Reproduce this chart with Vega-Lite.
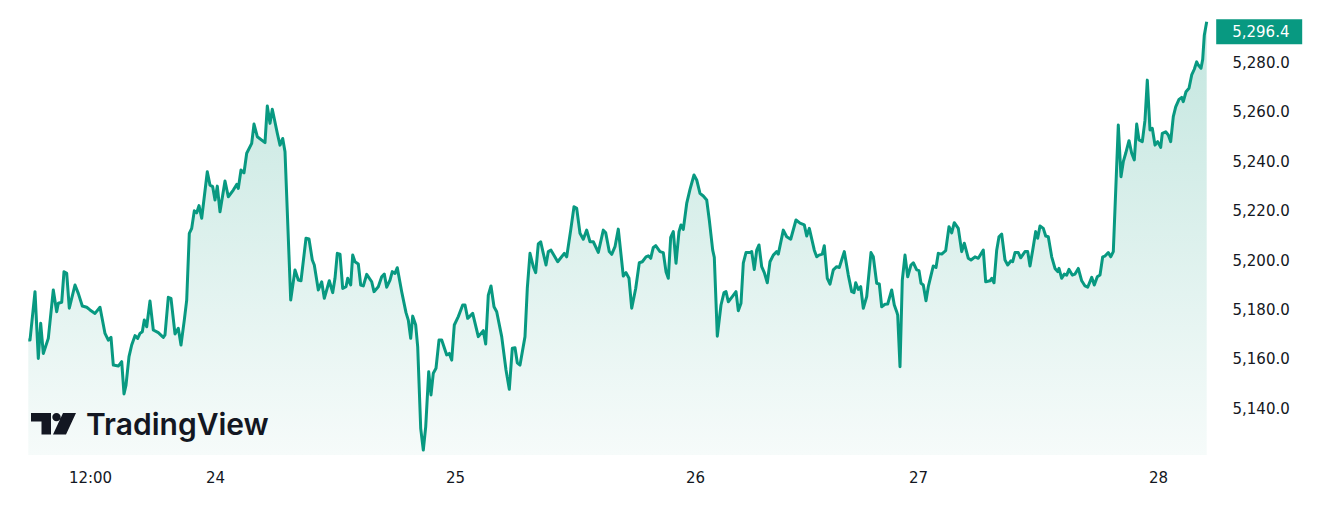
{
  "$schema": "https://vega.github.io/schema/vega-lite/v6.json",
  "width": 1179,
  "height": 450,
  "autosize": {"type": "none"},
  "padding": {"left": 28, "top": 5, "right": 122, "bottom": 54},
  "background": "#ffffff",
  "config": {"view": {"stroke": null}},
  "data": {"values": [
    {"t":-18.67,"p":5167.6},{"t":-18.5,"p":5167.6},{"t":-18.0,"p":5187.2},{"t":-17.67,"p":5160.2},{"t":-17.43,"p":5174.4},{"t":-17.17,"p":5162.2},{"t":-16.67,"p":5168.3},{"t":-16.17,"p":5187.9},{"t":-15.83,"p":5179.1},{"t":-15.67,"p":5182.5},{"t":-15.33,"p":5182.9},{"t":-15.1,"p":5195.3},{"t":-14.83,"p":5194.6},{"t":-14.57,"p":5180.5},{"t":-14.0,"p":5189.9},{"t":-13.67,"p":5186.5},{"t":-13.27,"p":5181.4},{"t":-12.83,"p":5180.9},{"t":-12.5,"p":5179.8},{"t":-12.0,"p":5178.4},{"t":-11.5,"p":5180.9},{"t":-11.0,"p":5170.3},{"t":-10.67,"p":5167.6},{"t":-10.4,"p":5168.7},{"t":-10.17,"p":5157.5},{"t":-9.67,"p":5157.1},{"t":-9.33,"p":5158.9},{"t":-9.1,"p":5145.8},{"t":-8.9,"p":5149.4},{"t":-8.6,"p":5160.9},{"t":-8.33,"p":5165.6},{"t":-8.0,"p":5169.4},{"t":-7.73,"p":5168.3},{"t":-7.5,"p":5170.3},{"t":-7.27,"p":5171.0},{"t":-7.07,"p":5175.7},{"t":-6.83,"p":5173.0},{"t":-6.5,"p":5183.4},{"t":-6.17,"p":5171.7},{"t":-5.67,"p":5170.6},{"t":-5.17,"p":5168.7},{"t":-5.0,"p":5169.7},{"t":-4.67,"p":5184.9},{"t":-4.4,"p":5184.5},{"t":-4.0,"p":5170.1},{"t":-3.67,"p":5172.4},{"t":-3.4,"p":5165.6},{"t":-3.07,"p":5175.7},{"t":-2.83,"p":5183.8},{"t":-2.57,"p":5210.8},{"t":-2.33,"p":5212.8},{"t":-2.07,"p":5219.9},{"t":-1.83,"p":5219.1},{"t":-1.6,"p":5222.0},{"t":-1.33,"p":5216.9},{"t":-0.77,"p":5235.7},{"t":-0.5,"p":5230.3},{"t":-0.23,"p":5229.7},{"t":0,"p":5224.3},{"t":0.23,"p":5229.9},{"t":0.5,"p":5219.5},{"t":1.0,"p":5232.0},{"t":1.33,"p":5225.6},{"t":1.83,"p":5228.3},{"t":2.17,"p":5230.6},{"t":2.33,"p":5229.0},{"t":2.6,"p":5236.4},{"t":2.9,"p":5235.3},{"t":3.17,"p":5243.2},{"t":3.67,"p":5247.2},{"t":3.9,"p":5255.0},{"t":4.23,"p":5249.9},{"t":5.0,"p":5247.5},{"t":5.23,"p":5262.3},{"t":5.5,"p":5255.3},{"t":5.73,"p":5261.0},{"t":6.23,"p":5251.3},{"t":6.5,"p":5246.5},{"t":6.77,"p":5249.2},{"t":7.0,"p":5243.8},{"t":7.57,"p":5183.8},{"t":8.0,"p":5196.0},{"t":8.33,"p":5191.9},{"t":8.6,"p":5191.6},{"t":9.1,"p":5208.8},{"t":9.4,"p":5208.5},{"t":9.73,"p":5200.0},{"t":9.93,"p":5198.0},{"t":10.33,"p":5187.9},{"t":10.67,"p":5191.2},{"t":10.93,"p":5184.5},
    {"t":11.43,"p":5191.6},{"t":11.77,"p":5186.8},{"t":12.0,"p":5192.6},{"t":12.23,"p":5202.7},{"t":12.5,"p":5202.4},{"t":12.77,"p":5188.5},{"t":13.1,"p":5189.2},{"t":13.27,"p":5192.6},{"t":13.57,"p":5189.9},{"t":13.77,"p":5202.0},{"t":14.0,"p":5199.3},{"t":14.33,"p":5198.4},{"t":14.57,"p":5189.9},{"t":14.83,"p":5189.5},{"t":15.17,"p":5194.2},{"t":15.67,"p":5191.2},{"t":15.9,"p":5187.2},{"t":16.33,"p":5189.2},{"t":16.67,"p":5193.2},{"t":16.93,"p":5194.3},{"t":17.17,"p":5189.0},{"t":17.5,"p":5191.9},{"t":17.73,"p":5195.3},{"t":18.0,"p":5194.6},{"t":18.23,"p":5196.9},{"t":18.67,"p":5187.2},{"t":19.1,"p":5178.7},{"t":19.33,"p":5175.7},{"t":19.57,"p":5168.3},{"t":19.77,"p":5177.3},{"t":20.07,"p":5173.7},{"t":20.27,"p":5164.9},{"t":20.57,"p":5131.9},{"t":20.83,"p":5123.1},{"t":21.07,"p":5132.5},{"t":21.37,"p":5154.8},{"t":21.6,"p":5145.4},{"t":21.83,"p":5154.2},{"t":22.1,"p":5156.2},{"t":22.4,"p":5167.6},{"t":22.67,"p":5167.6},{"t":23.17,"p":5161.6},{"t":23.43,"p":5162.2},{"t":23.67,"p":5159.5},{"t":23.93,"p":5173.7},{"t":24.33,"p":5177.1},{"t":24.77,"p":5181.8},{"t":25.0,"p":5181.8},{"t":25.27,"p":5176.4},{"t":25.77,"p":5178.4},{"t":26.33,"p":5169.0},{"t":26.83,"p":5171.4},{"t":27.07,"p":5166.0},{"t":27.33,"p":5185.8},{"t":27.6,"p":5189.5},{"t":27.9,"p":5181.1},{"t":28.17,"p":5179.1},{"t":28.67,"p":5169.0},{"t":29.1,"p":5155.5},{"t":29.43,"p":5147.7},{"t":29.73,"p":5164.3},{"t":30.0,"p":5164.5},{"t":30.23,"p":5158.4},{"t":30.5,"p":5157.5},{"t":31.0,"p":5169.0},{"t":31.23,"p":5188.5},{"t":31.5,"p":5202.7},{"t":31.83,"p":5197.3},{"t":32.07,"p":5194.9},{"t":32.33,"p":5206.5},{"t":32.57,"p":5207.4},{"t":32.83,"p":5202.7},{"t":33.1,"p":5198.0},{"t":33.33,"p":5203.4},{"t":33.6,"p":5204.0},{"t":34.27,"p":5199.3},{"t":34.93,"p":5202.7},{"t":35.17,"p":5201.3},{"t":35.57,"p":5212.1},{"t":35.9,"p":5221.6},{"t":36.17,"p":5220.9},{"t":36.5,"p":5210.8},{"t":36.83,"p":5208.4},{"t":37.17,"p":5212.1},{"t":37.5,"p":5207.4},{"t":37.83,"p":5207.4},{"t":38.33,"p":5203.1},{"t":38.83,"p":5212.1},{"t":39.07,"p":5211.0},{"t":39.43,"p":5203.4},{"t":39.67,"p":5202.3},{"t":40.0,"p":5205.4},{"t":40.33,"p":5212.5},
    {"t":40.83,"p":5193.5},{"t":41.1,"p":5194.9},{"t":41.4,"p":5192.6},{"t":41.67,"p":5180.5},{"t":42.07,"p":5188.5},{"t":42.43,"p":5198.9},{"t":42.73,"p":5199.3},{"t":43.1,"p":5201.3},{"t":43.33,"p":5201.7},{"t":43.57,"p":5200.7},{"t":43.83,"p":5205.1},{"t":44.07,"p":5205.8},{"t":44.5,"p":5203.4},{"t":44.83,"p":5203.0},{"t":45.1,"p":5195.3},{"t":45.33,"p":5192.6},{"t":45.57,"p":5209.2},{"t":45.83,"p":5211.5},{"t":46.1,"p":5198.7},{"t":46.4,"p":5211.5},{"t":46.6,"p":5214.2},{"t":46.83,"p":5212.4},{"t":47.17,"p":5222.9},{"t":47.5,"p":5228.6},{"t":47.9,"p":5234.4},{"t":48.17,"p":5232.4},{"t":48.5,"p":5227.0},{"t":48.83,"p":5225.9},{"t":49.17,"p":5224.3},{"t":49.43,"p":5216.2},{"t":49.77,"p":5204.0},{"t":49.93,"p":5201.1},{"t":50.23,"p":5169.2},{"t":50.6,"p":5181.8},{"t":50.9,"p":5186.8},{"t":51.1,"p":5187.2},{"t":51.33,"p":5183.1},{"t":51.73,"p":5185.2},{"t":52.1,"p":5187.2},{"t":52.33,"p":5179.5},{"t":52.6,"p":5182.5},{"t":52.83,"p":5198.7},{"t":53.1,"p":5203.0},{"t":53.5,"p":5203.0},{"t":53.67,"p":5203.4},{"t":53.93,"p":5196.2},{"t":54.17,"p":5204.0},{"t":54.4,"p":5206.1},{"t":54.67,"p":5197.3},{"t":54.93,"p":5194.9},{"t":55.23,"p":5190.8},{"t":55.5,"p":5199.3},{"t":55.83,"p":5202.0},{"t":56.17,"p":5203.4},{"t":56.33,"p":5202.4},{"t":56.83,"p":5212.1},{"t":57.17,"p":5209.4},{"t":57.57,"p":5208.4},{"t":58.1,"p":5216.2},{"t":58.5,"p":5214.9},{"t":58.93,"p":5214.2},{"t":59.17,"p":5209.7},{"t":59.43,"p":5212.8},{"t":59.93,"p":5204.0},{"t":60.17,"p":5201.3},{"t":60.4,"p":5202.0},{"t":60.73,"p":5202.4},{"t":60.93,"p":5205.8},{"t":61.23,"p":5192.6},{"t":61.5,"p":5190.2},{"t":61.83,"p":5196.0},{"t":62.17,"p":5197.3},{"t":62.43,"p":5197.0},{"t":62.93,"p":5203.4},{"t":63.33,"p":5193.9},{"t":63.67,"p":5187.2},{"t":63.9,"p":5186.8},{"t":64.07,"p":5190.8},{"t":64.33,"p":5188.1},{"t":64.57,"p":5189.2},{"t":64.83,"p":5180.5},{"t":65.17,"p":5185.2},{"t":65.6,"p":5203.0},{"t":65.83,"p":5201.3},{"t":66.17,"p":5190.6},{"t":66.43,"p":5190.3},{"t":66.67,"p":5181.1},{"t":67.0,"p":5182.1},{"t":67.27,"p":5182.2},{"t":67.67,"p":5187.9},{"t":67.93,"p":5181.8},{"t":68.17,"p":5179.1},{"t":68.27,"p":5177.7},{"t":68.5,"p":5156.8},{"t":68.73,"p":5191.9},{"t":69.0,"p":5202.0},{"t":69.27,"p":5193.2},{"t":69.6,"p":5198.0},{"t":69.83,"p":5198.9},
    {"t":70.17,"p":5196.0},{"t":70.4,"p":5195.7},{"t":70.6,"p":5190.6},{"t":70.83,"p":5189.9},{"t":71.1,"p":5183.5},{"t":71.33,"p":5189.2},{"t":71.83,"p":5197.6},{"t":72.1,"p":5197.0},{"t":72.33,"p":5202.7},{"t":72.67,"p":5202.4},{"t":73.07,"p":5203.8},{"t":73.4,"p":5213.5},{"t":73.67,"p":5211.0},{"t":73.93,"p":5215.1},{"t":74.33,"p":5212.8},{"t":74.67,"p":5203.4},{"t":74.93,"p":5206.8},{"t":75.33,"p":5200.7},{"t":75.6,"p":5200.0},{"t":76.0,"p":5201.3},{"t":76.33,"p":5200.7},{"t":76.83,"p":5204.0},{"t":77.07,"p":5191.2},{"t":77.5,"p":5191.6},{"t":77.67,"p":5192.6},{"t":77.9,"p":5190.8},{"t":78.17,"p":5204.0},{"t":78.4,"p":5209.4},{"t":78.67,"p":5210.5},{"t":79.0,"p":5200.0},{"t":79.27,"p":5198.0},{"t":79.6,"p":5199.7},{"t":79.77,"p":5199.3},{"t":80.0,"p":5203.0},{"t":80.33,"p":5203.0},{"t":80.57,"p":5200.9},{"t":81.0,"p":5203.4},{"t":81.27,"p":5203.4},{"t":81.5,"p":5197.6},{"t":81.77,"p":5204.0},{"t":82.07,"p":5211.5},{"t":82.27,"p":5208.8},{"t":82.5,"p":5213.8},{"t":82.83,"p":5212.8},{"t":83.07,"p":5209.7},{"t":83.33,"p":5209.4},{"t":83.67,"p":5201.3},{"t":84.0,"p":5196.6},{"t":84.27,"p":5195.3},{"t":84.4,"p":5196.6},{"t":84.67,"p":5192.6},{"t":84.93,"p":5194.3},{"t":85.17,"p":5193.9},{"t":85.4,"p":5196.2},{"t":85.73,"p":5193.9},{"t":86.0,"p":5194.3},{"t":86.33,"p":5196.6},{"t":86.67,"p":5191.6},{"t":87.0,"p":5189.5},{"t":87.27,"p":5189.0},{"t":87.67,"p":5193.0},{"t":87.93,"p":5189.9},{"t":88.23,"p":5193.2},{"t":88.5,"p":5193.9},{"t":88.77,"p":5201.3},{"t":89.0,"p":5201.6},{"t":89.33,"p":5203.0},{"t":89.57,"p":5201.3},{"t":89.83,"p":5203.4},{"t":90.33,"p":5254.6},{"t":90.6,"p":5233.7},{"t":90.83,"p":5239.8},{"t":91.07,"p":5243.2},{"t":91.4,"p":5248.3},{"t":91.67,"p":5243.2},{"t":91.93,"p":5240.5},{"t":92.17,"p":5255.0},{"t":92.4,"p":5248.6},{"t":92.73,"p":5247.9},{"t":93.0,"p":5256.6},{"t":93.23,"p":5272.8},{"t":93.5,"p":5252.6},{"t":93.73,"p":5253.3},{"t":94.0,"p":5246.5},{"t":94.27,"p":5247.9},{"t":94.57,"p":5245.6},{"t":94.73,"p":5251.3},{"t":95.07,"p":5251.9},{"t":95.33,"p":5250.6},{"t":95.57,"p":5247.9},{"t":95.83,"p":5258.0},{"t":96.07,"p":5262.0},{"t":96.4,"p":5265.0},{"t":96.67,"p":5265.8},{"t":96.83,"p":5264.1},{"t":97.1,"p":5268.1},{"t":97.4,"p":5269.5},{"t":97.67,"p":5274.9},{"t":97.93,"p":5277.2},{"t":98.17,"p":5280.2},{"t":98.33,"p":5278.9},{"t":98.6,"p":5277.6},{"t":98.77,"p":5281.2},{"t":98.93,"p":5291.0},{"t":99.17,"p":5296.4}
  ]},
  "encoding": {
    "x": {"field": "t", "type": "quantitative",
      "scale": {"domain": [-18.7, 99.2], "nice": false, "zero": false},
      "axis": {"title": null, "values": [-12.5, 0, 24, 48, 70.3, 94.3],
        "labelExpr": "datum.value == -12.5 ? '12:00' : datum.value == 0 ? '24' : datum.value == 24 ? '25' : datum.value == 48 ? '26' : datum.value < 80 ? '27' : '28'",
        "domain": false, "ticks": false, "grid": false, "labelPadding": 15,
        "labelFont": "DejaVu Sans", "labelFontSize": 15, "labelColor": "#131722",
        "labelFlush": false, "labelOverlap": false, "zindex": 2}},
    "y": {"field": "p", "type": "quantitative",
      "scale": {"domain": [5121.1, 5303.2], "nice": false, "zero": false},
      "axis": {"title": null, "orient": "right", "values": [5140, 5160, 5180, 5200, 5220, 5240, 5260, 5280],
        "format": ",.1f", "domain": false, "ticks": false, "grid": false, "labelPadding": 25,
        "labelFont": "DejaVu Sans", "labelFontSize": 15, "labelColor": "#131722",
        "labelFlush": false, "labelOverlap": false, "zindex": 2}}
  },
  "layer": [
    {"mark": {"type": "area", "interpolate": "linear", "clip": true,
      "color": {"gradient": "linear", "x1": 0, "y1": 0, "x2": 0, "y2": 1,
        "stops": [{"offset": 0, "color": "#c3e6df"}, {"offset": 1, "color": "#f6fbfa"}]}},
      "encoding": {"y2": {"datum": 5121.1}}},
    {"mark": {"type": "line", "color": "#089981", "strokeWidth": 3, "strokeJoin": "round"}},
    {"transform": [{"filter": "datum.t > 99"}],
      "mark": {"type": "point", "filled": true, "opacity": 1, "color": "#089981",
        "shape": "M-1,-0.2907H1V0.2907H-1Z", "size": 7396, "xOffset": 52.5, "yOffset": 10}},
    {"transform": [{"filter": "datum.t > 99"}],
      "mark": {"type": "text", "align": "left", "baseline": "middle", "dx": 25.5, "dy": 10,
        "font": "DejaVu Sans", "fontSize": 15, "color": "#ffffff"},
      "encoding": {"text": {"field": "p", "type": "quantitative", "format": ",.1f"}}},
    {"transform": [{"filter": "datum.t < -18.6"}],
      "mark": {"type": "text", "align": "left", "baseline": "alphabetic", "font": "Inter",
        "fontSize": 30, "fontWeight": 600, "color": "#131722", "dx": 57.7, "dy": 95},
      "encoding": {"text": {"value": "TradingView"}}},
    {"transform": [{"filter": "datum.t < -18.6"}],
      "mark": {"type": "point", "filled": true, "opacity": 1, "color": "#131722", "size": 2025,
        "xOffset": 25.2, "yOffset": 83.5,
        "shape": "M-1,-0.467L-0.111,-0.467L-0.111,0.489L-0.533,0.489L-0.533,-0.089L-1,-0.089Z M-0.054,-0.289A0.187,0.187 0 1,0 0.32,-0.289A0.187,0.187 0 1,0 -0.054,-0.289Z M0.422,-0.467L1,-0.467L0.556,0.489L-0.022,0.489Z"}}
  ]
}
